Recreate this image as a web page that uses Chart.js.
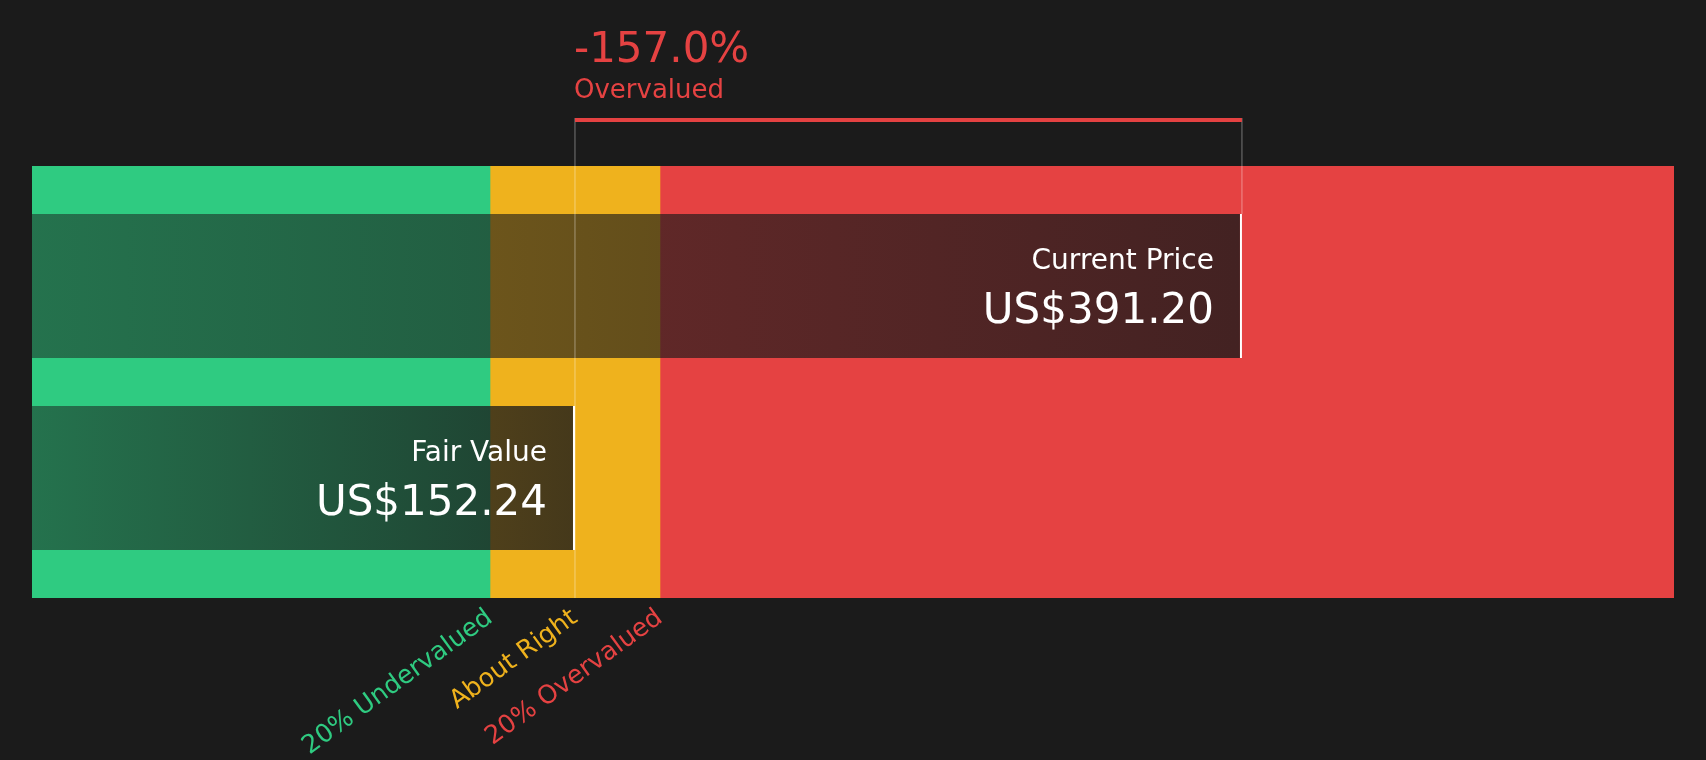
<!DOCTYPE html>
<html>
<head>
<meta charset="utf-8">
<script src="https://cdn.jsdelivr.net/npm/chart.js@4.4.1/dist/chart.umd.min.js"></script>
<style>
  html, body { margin: 0; padding: 0; background: #1b1b1b; }
  #wrap { width: 1706px; height: 760px; position: relative; }
</style>
</head>
<body>
<div id="wrap"><canvas id="valuation"></canvas></div>
<script>
/* -----------------------------------------------------------
   DATA
----------------------------------------------------------- */

const priceLabels = ["Current Price", "Fair Value"];
const priceValues = [391.20, 152.24];
const priceTexts = ["US$391.20", "US$152.24"];

const zoneLabels = ["20% Undervalued", "About Right", "20% Overvalued"];
const zoneTicks = [121.79, 152.24, 182.69];
const zoneBounds = [-42.3, 121.79, 182.69, 546.0];

const gapText = "-157.0%";
const gapLabel = "Overvalued";

/* -----------------------------------------------------------
   STYLE
----------------------------------------------------------- */

const FONT = "'DejaVu Sans', sans-serif";
const GREEN = "#2fcb81";
const YELLOW = "#efb21d";
const RED = "#e54242";
const zoneColors = [GREEN, YELLOW, RED];

Chart.defaults.font.family = FONT;
Chart.defaults.color = "#ffffff";

/* dark shade over the bands, darker toward the bar end */
function shadeGradient(context) {
    const chart = context.chart;
    const { ctx, chartArea, scales } = chart;
    const raw = context.raw;
    if (!chartArea || !raw) return "rgba(26,26,26,0.65)";
    const x0 = scales.x.getPixelForValue(raw[0]);
    const x1 = scales.x.getPixelForValue(raw[1]);
    const g = ctx.createLinearGradient(x0, 0, x1, 0);
    g.addColorStop(0, "rgba(26,26,26,0.5)");
    g.addColorStop(1, "rgba(26,26,26,0.8)");
    return g;
}

/* bracket, headline and bar labels */
const valuationOverlay = {
    id: "valuationOverlay",
    afterDatasetsDraw(chart) {
        const { ctx, chartArea, scales } = chart;
        const xFair = scales.x.getPixelForValue(priceValues[1]);
        const xCur = scales.x.getPixelForValue(priceValues[0]);
        const curBar = chart.getDatasetMeta(0).data[0];
        const lineTop = chartArea.top - 48;

        ctx.save();

        // thin guides
        ctx.strokeStyle = "rgba(255,255,255,0.4)";
        ctx.lineWidth = 1;
        ctx.beginPath();
        ctx.moveTo(xFair, lineTop);
        ctx.lineTo(xFair, chartArea.bottom);
        ctx.moveTo(xCur, lineTop);
        ctx.lineTo(xCur, curBar.y - curBar.height / 2);
        ctx.stroke();

        // red bracket
        ctx.fillStyle = RED;
        ctx.fillRect(xFair, lineTop, xCur - xFair, 4);

        // headline
        ctx.textAlign = "left";
        ctx.textBaseline = "alphabetic";
        ctx.font = `42px ${FONT}`;
        ctx.fillText(gapText, xFair - 1, 62);
        ctx.font = `26px ${FONT}`;
        ctx.fillText(gapLabel, xFair - 1, 98);

        // bar labels
        ctx.fillStyle = "#ffffff";
        ctx.textAlign = "right";
        priceLabels.forEach((label, i) => {
            const bar = chart.getDatasetMeta(i).data[0];
            const xr = bar.x - 28;
            ctx.font = `28px ${FONT}`;
            ctx.fillText(label, xr, bar.y - 17);
            ctx.font = `42px ${FONT}`;
            ctx.fillText(priceTexts[i], xr, bar.y + 37);
        });

        ctx.restore();
    }
};

/* -----------------------------------------------------------
   CHART
----------------------------------------------------------- */

const priceSets = priceLabels.map((label, i) => ({
    label,
    data: [[zoneBounds[0], priceValues[i]]],
    backgroundColor: shadeGradient,
    borderColor: "#ffffff",
    borderWidth: { top: 0, bottom: 0, left: 0, right: 2 },
    borderSkipped: false,
    categoryPercentage: 8 / 9,
    barPercentage: 0.75,
    order: 1
}));

const zoneSets = zoneLabels.map((label, i) => ({
    label,
    data: [[zoneBounds[i], zoneBounds[i + 1]]],
    backgroundColor: zoneColors[i],
    borderWidth: 0,
    grouped: false,
    categoryPercentage: 1,
    barPercentage: 1,
    order: 2
}));

new Chart(document.getElementById("valuation"), {
    type: "bar",
    data: {
        labels: ["valuation"],
        datasets: [...priceSets, ...zoneSets]
    },
    options: {
        indexAxis: "y",
        responsive: true,
        maintainAspectRatio: false,
        animation: false,
        layout: { padding: { top: 166, left: 32, right: 32, bottom: 0 } },
        plugins: {
            legend: { display: false },
            tooltip: { enabled: false }
        },
        scales: {
            y: { display: false, offset: true },
            x: {
                min: zoneBounds[0],
                max: zoneBounds[zoneBounds.length - 1],
                grid: { display: false },
                border: { display: false },
                afterBuildTicks: (axis) => {
                    axis.ticks = zoneTicks.map(v => ({ value: v }));
                },
                afterFit: (axis) => { axis.height = 162; },
                ticks: {
                    autoSkip: false,
                    minRotation: 36,
                    maxRotation: 36,
                    padding: -3,
                    font: { size: 25.5 },
                    color: (c) => zoneColors[c.index],
                    callback: (value, index) => zoneLabels[index]
                }
            }
        }
    },
    plugins: [valuationOverlay]
});
</script>
</body>
</html>
